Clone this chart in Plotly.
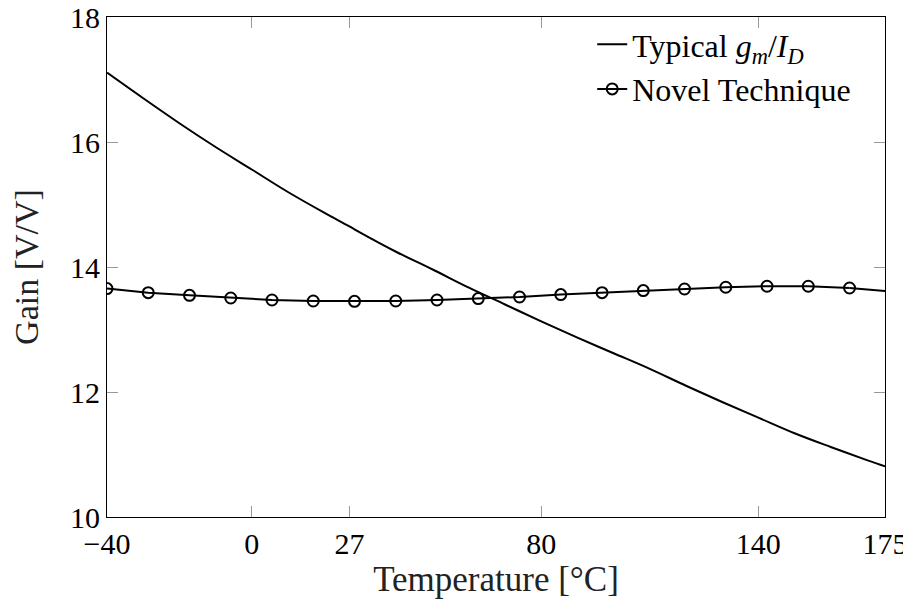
import plotly.graph_objects as go

# ---- data ----
typical_temp = [-40, -30, -20, -10, 0, 10, 20, 27, 30, 40, 50, 60, 70, 80, 90, 100,
                110, 120, 130, 140, 150, 160, 170, 175]
typical_gain = [17.11, 16.70, 16.30, 15.92, 15.56, 15.20, 14.87, 14.65, 14.55, 14.24,
                13.96, 13.67, 13.40, 13.13, 12.87, 12.62, 12.37, 12.10, 11.84, 11.59,
                11.34, 11.12, 10.91, 10.81]

novel_temp = [-40, -28.6, -17.2, -5.8, 5.6, 17.0, 28.4, 39.8, 51.2, 62.6, 74.0, 85.4,
              96.8, 108.2, 119.6, 131.0, 142.4, 153.8, 165.2]
novel_gain = [13.655, 13.59, 13.547, 13.504, 13.472, 13.456, 13.451, 13.456, 13.472,
              13.495, 13.52, 13.559, 13.59, 13.623, 13.648, 13.676, 13.692, 13.692,
              13.664]
novel_tail_temp = [165.2, 175]
novel_tail_gain = [13.664, 13.616]

x_ticks = [-40, 0, 27, 80, 140, 175]
x_ticktext = ["\u221240", "0", "27", "80", "140", "175"]
y_ticks = [10, 12, 14, 16, 18]

FONT = "Liberation Serif"

fig = go.Figure()
fig.add_trace(go.Scatter(
    x=typical_temp, y=typical_gain, mode="lines",
    line=dict(color="black", width=2, shape="spline"),
    name="Typical <i>g</i><sub><i>m</i></sub>/<i>I</i><sub><i>D</i></sub>",
))
fig.add_trace(go.Scatter(
    x=novel_temp, y=novel_gain, mode="lines+markers",
    line=dict(color="black", width=2),
    marker=dict(symbol="circle-open", size=11, color="black", line=dict(width=2, color="black")),
    name="Novel Technique",
))
fig.add_trace(go.Scatter(
    x=novel_tail_temp, y=novel_tail_gain, mode="lines",
    line=dict(color="black", width=2), showlegend=False,
))

axis_common = dict(
    showgrid=False, zeroline=False, showline=True, linecolor="black", linewidth=1.2,
    mirror="ticks", ticks="inside", ticklen=11, tickcolor="#999999", tickwidth=1,
    tickfont=dict(family=FONT, size=30, color="black"), automargin=False,
    ticklabeloverflow="allow",
)
fig.update_xaxes(
    range=[-40, 175], tickvals=x_ticks, ticktext=x_ticktext,
    title=dict(text="Temperature [°C]", font=dict(family=FONT, size=35, color="#222"), standoff=5),
    **axis_common,
)
fig.update_yaxes(
    range=[10, 18], tickvals=y_ticks,
    title=dict(text="Gain [V/V]", font=dict(family=FONT, size=34, color="#222"), standoff=28),
    **axis_common,
)
fig.update_layout(
    width=903, height=594,
    margin=dict(l=99, r=26, t=9, b=85),
    plot_bgcolor="white", paper_bgcolor="white",
    font=dict(family=FONT, size=30, color="black"),
    legend=dict(x=0.963, y=1.0, xanchor="right", yanchor="top",
                bgcolor="rgba(0,0,0,0)", font=dict(family=FONT, size=32, color="black"),
                tracegroupgap=0, itemwidth=30),
    showlegend=True,
)

fig.write_html("out.html")
